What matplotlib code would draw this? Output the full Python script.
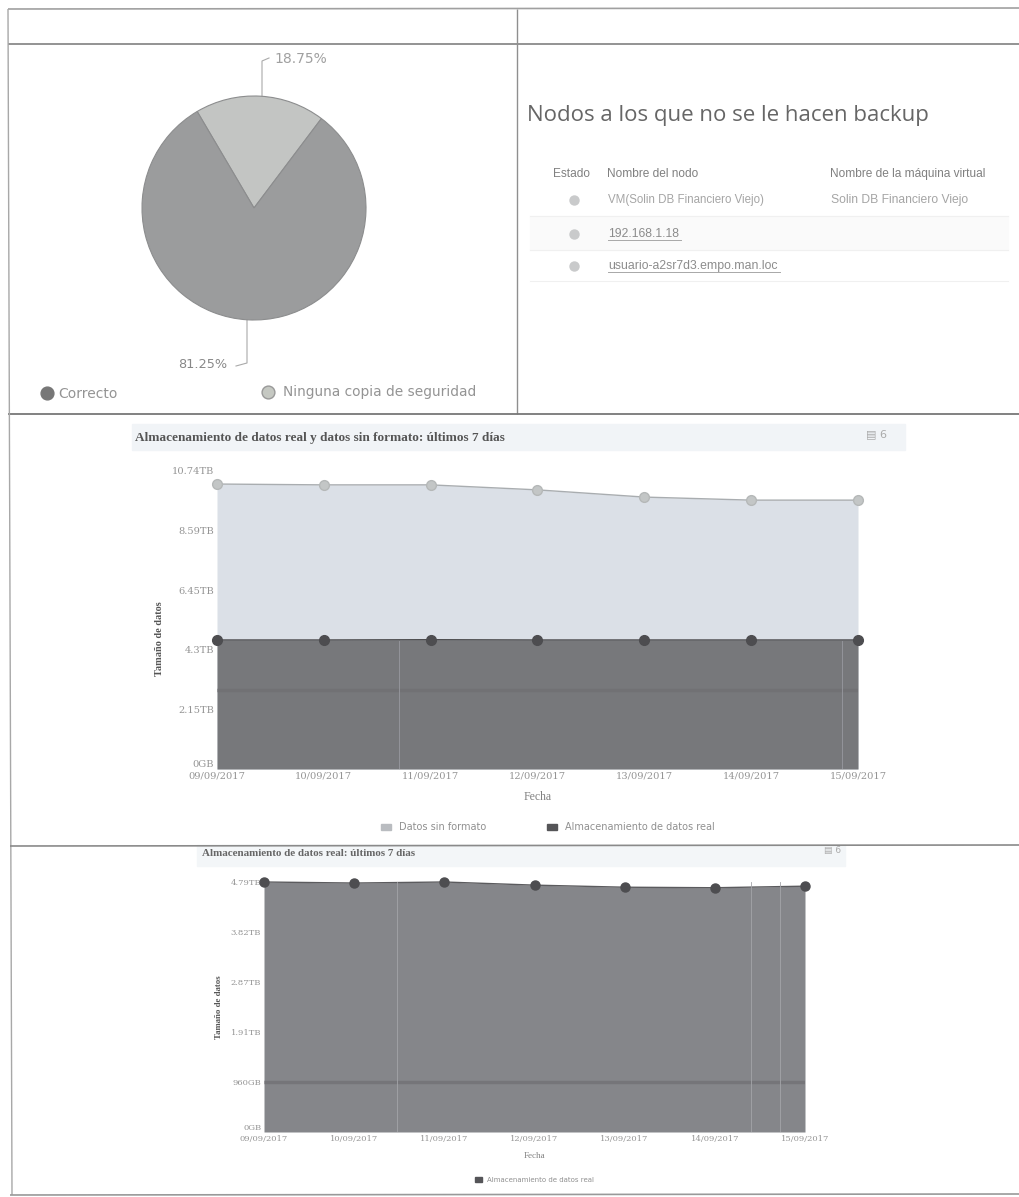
import matplotlib
matplotlib.use("Agg")
import matplotlib.pyplot as plt
from matplotlib.patches import Patch, Rectangle

W, H = 1020, 1197

pie_labels = ["Ninguna copia de seguridad", "Correcto"]
pie_values = [18.75, 81.25]
pie_texts = ["18.75%", "81.25%"]

table_headers = ["Estado", "Nombre del nodo", "Nombre de la máquina virtual"]
node_names = ["VM(Solin DB Financiero Viejo)", "192.168.1.18", "usuario-a2sr7d3.empo.man.loc"]
vm_names = ["Solin DB Financiero Viejo", "", ""]

dates = ["09/09/2017", "10/09/2017", "11/09/2017", "12/09/2017",
         "13/09/2017", "14/09/2017", "15/09/2017"]
raw_tb = [10.27, 10.24, 10.24, 10.06, 9.80, 9.69, 9.69]
real_tb = [4.65, 4.65, 4.66, 4.65, 4.65, 4.65, 4.65]
real2_tb = [4.79, 4.77, 4.79, 4.73, 4.69, 4.68, 4.71]

ticks1 = [0, 2.148, 4.296, 6.444, 8.592, 10.74]
tick_labels1 = ["0GB", "2.15TB", "4.3TB", "6.45TB", "8.59TB", "10.74TB"]
ticks2 = [0, 0.958, 1.916, 2.874, 3.832, 4.79]
tick_labels2 = ["0GB", "960GB", "1.91TB", "2.87TB", "3.82TB", "4.79TB"]

LIGHT = "#dbe0e7"
DARK = "#77787b"
DARK2 = "#85868a"
TXT = "#949494"
SERIF = "Liberation Serif"
DSERIF = "DejaVu Serif"

fig = plt.figure(figsize=(W / 100, H / 100), dpi=100, facecolor="white")


def axes_px(x0, y0, x1, y1, **kw):
    return fig.add_axes([x0 / W, 1 - y1 / H, (x1 - x0) / W, (y1 - y0) / H], **kw)


# page layer, in pixel coordinates
bg = axes_px(0, 0, W, H)
bg.set_xlim(0, W)
bg.set_ylim(H, 0)
bg.axis("off")

for x0, y0, x1, y1, c, lw in [
    (8, 9, W, 8, "#a0a0a0", 1.2),
    (8, 44, W, 44, "#8a8a8a", 1.3),
    (517, 9, 517, 414, "#8f8f8f", 1.0),
    (8, 414, W, 414, "#777777", 1.3),
    (8, 9, 12, 1195, "#a8a8a8", 1.0),
    (10, 846, W, 845, "#8a8a8a", 1.2),
    (10, 1195, W, 1194, "#999999", 1.2),
]:
    bg.plot([x0, x1], [y0, y1], color=c, lw=lw, solid_capstyle="butt")

# pie leader lines and labels
bg.plot([262, 262, 269], [97, 61, 58], color="#aaaaaa", lw=0.8)
bg.plot([247, 247, 236], [319, 363, 366], color="#aaaaaa", lw=0.8)
bg.text(274, 59, pie_texts[0], fontsize=10, color="#a0a0a0", va="center", family="DejaVu Sans")
bg.text(178, 364, pie_texts[1], fontsize=9.3, color="#888888", va="center", family="DejaVu Sans")

# pie legend
bg.scatter([47], [393], s=85, color="#777777", zorder=3)
bg.scatter([268], [392], s=85, color="#c5c8c2", edgecolor="#999999", zorder=3)
bg.text(58, 394, pie_labels[1], fontsize=10, color=TXT, va="center", family="DejaVu Sans")
bg.text(283, 392, pie_labels[0], fontsize=9.9, color=TXT, va="center", family="DejaVu Sans")

# node table
bg.text(527, 116, "Nodos a los que no se le hacen backup", fontsize=16, color="#666666",
        va="center", family="Open Sans")
for x, head in zip([553, 607, 830], table_headers):
    bg.text(x, 174, head, fontsize=8.6, color="#808080", va="center", family="Liberation Sans")
bg.add_patch(Rectangle((530, 216), 478, 34, color="#fafafa", zorder=0))
row_y = [200, 234, 266]
for y, name, vm, link in zip(row_y, node_names, vm_names, [False, True, True]):
    bg.scatter([574], [y], s=42, color="#c9cacb", zorder=3)
    t = bg.text(608, y, name, fontsize=8.3, color="#a5a5a5", va="center", family="Liberation Sans")
    if link:
        t.set_color("#8c8c8c")
        t.set_fontsize(8.8)
        width = 73 if name[0] == "1" else 172
        bg.plot([608, 608 + width], [y + 6, y + 6], color="#a8a8a8", lw=0.7)
    bg.text(831, y, vm, fontsize=8.7, color="#a5a5a5", va="center", family="Liberation Sans")
for y in [216, 250, 281]:
    bg.plot([530, 1008], [y, y], color="#f0f0f0", lw=0.8)

# title strips
bg.add_patch(Rectangle((132, 424), 773, 26, color="#f1f4f7", zorder=0))
bg.add_patch(Rectangle((197, 845), 648, 21, color="#f3f6f8", zorder=0))
bg.text(135, 438, "Almacenamiento de datos real y datos sin formato: últimos 7 días",
        fontsize=9.5, fontweight="bold", color="#555555", va="center", family=SERIF)
bg.text(202, 854, "Almacenamiento de datos real: últimos 7 días",
        fontsize=7.9, fontweight="bold", color="#666666", va="center", family=SERIF)
bg.text(866, 434, "▤ 6", fontsize=8, color="#aaaaaa", va="center", family="DejaVu Sans")
bg.text(824, 850, "▤ 6", fontsize=6.5, color="#aaaaaa", va="center", family="DejaVu Sans")

# pie
ax_pie = axes_px(142, 96, 366, 320)
ax_pie.pie(pie_values, colors=["#c3c5c3", "#9b9c9d"], startangle=53, radius=1,
           wedgeprops={"edgecolor": "#8c8d8e", "linewidth": 0.8})
ax_pie.set_xlim(-1, 1)
ax_pie.set_ylim(-1, 1)
for w in ax_pie.patches:
    w.set_clip_on(False)


def style_chart(ax, ticks, labels, ymax, fs, xlab_fs, ylab_xy):
    ax.set_xlim(0, len(dates) - 1)
    ax.set_ylim(0, ymax)
    ax.set_yticks(ticks)
    ax.set_yticklabels(labels, fontsize=fs, color=TXT, family=DSERIF)
    ax.get_yticklabels()[0].set_verticalalignment("bottom")
    ax.set_xticks(range(len(dates)))
    ax.set_xticklabels(dates, fontsize=fs, color=TXT, family=DSERIF)
    ax.tick_params(length=0, pad=2)
    for s in ax.spines.values():
        s.set_visible(False)
    ax.set_xlabel("Fecha", fontsize=xlab_fs, color="#808080", family=SERIF, labelpad=7)
    ax.set_ylabel("Tamaño de datos", fontsize=fs + 0.3, color="#555555", family=SERIF,
                  fontweight="bold")
    ax.yaxis.set_label_coords(*ylab_xy)


# first area chart
ax1 = axes_px(217, 471, 858, 769)
x = range(len(dates))
ax1.fill_between(x, raw_tb, color=LIGHT, lw=0)
ax1.plot(x, raw_tb, color="#a9adb0", lw=1, marker="o", ms=7, mfc="#c3c6c6", mec="#b5b8b8", clip_on=False)
ax1.fill_between(x, real_tb, color=DARK, lw=0)
ax1.plot(x, real_tb, color="#4a4a4c", lw=1, marker="o", ms=7, mfc="#4d4d50", mec="#4d4d50", clip_on=False)
ax1.axhline(2.85, color="#6c6c6f", lw=2.5, alpha=0.5)
ax1.axvline(1.7, ymax=0.43, color="#93949a", lw=0.7)
ax1.axvline(5.85, ymax=0.43, color="#93949a", lw=0.7)
style_chart(ax1, ticks1, tick_labels1, 10.74, 7.1, 8.5, (-0.082, 0.436))
ax1.legend(handles=[Patch(color="#b9bcc0", label="Datos sin formato"),
                    Patch(color="#555558", label="Almacenamiento de datos real")],
           loc="upper center", bbox_to_anchor=(0.516, -0.15), ncol=2, frameon=False,
           labelcolor="#909090", columnspacing=6.3, handlelength=1,
           handleheight=0.6, prop={"family": "DejaVu Sans", "size": 7})

# second area chart
ax2 = axes_px(264, 882, 805, 1132)
ax2.fill_between(x, real2_tb, color=DARK2, lw=0)
ax2.plot(x, real2_tb, color="#5b5b5e", lw=1, marker="o", ms=6.5, mfc="#4d4d50", mec="#4d4d50", clip_on=False)
ax2.axhline(0.96, color="#626266", lw=2.5, alpha=0.45)
for i in [1.48, 5.4, 5.72]:
    ax2.axvline(i, color="#a4a5a9", lw=0.6)
style_chart(ax2, ticks2, tick_labels2, 4.79, 6, 6.5, (-0.075, 0.5))
ax2.legend(handles=[Patch(color="#555558", label="Almacenamiento de datos real")],
           loc="upper center", bbox_to_anchor=(0.5, -0.155), frameon=False,
           labelcolor="#909090", handlelength=1, handleheight=0.6,
           prop={"family": "DejaVu Sans", "size": 5})

fig.savefig("out.png", dpi=100)
